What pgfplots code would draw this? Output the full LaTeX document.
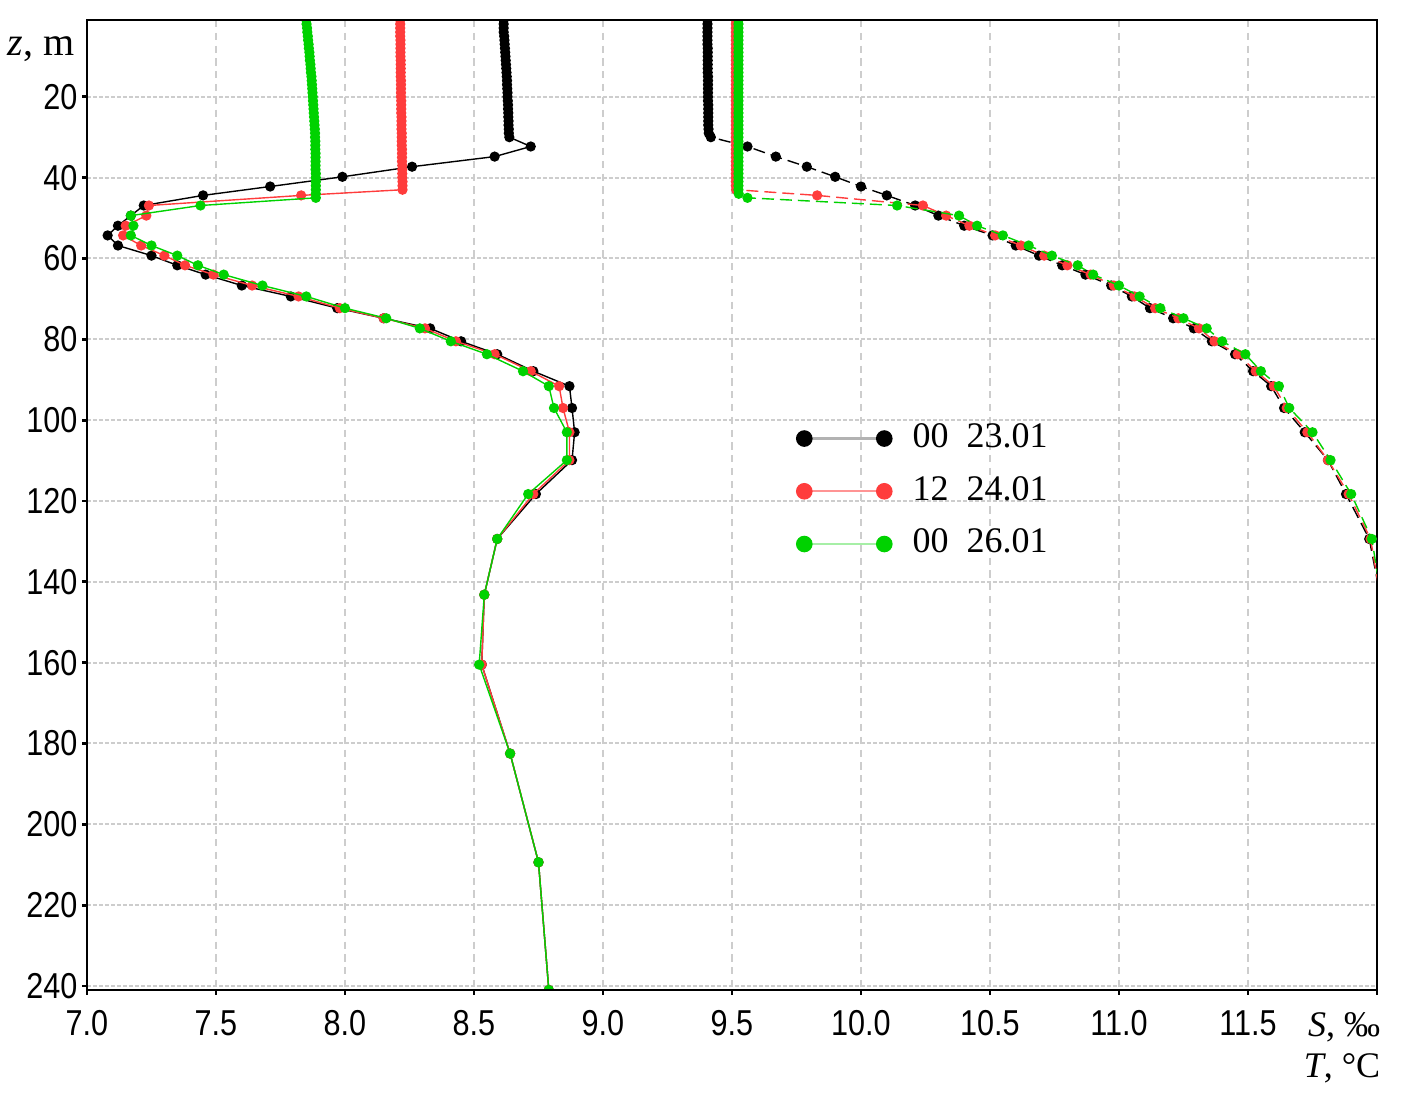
\documentclass[border=0pt]{standalone}
\usepackage{pgfplots}
\pgfplotsset{compat=1.18}
\usepackage{pgfplotstable}
\usepackage{fontspec}
\setmainfont{Liberation Serif}
\newfontfamily\tickfont[FakeStretch=0.85]{Liberation Sans}
\definecolor{cred}{RGB}{255,60,60}
\definecolor{cgreen}{RGB}{0,210,0}
\definecolor{gridc}{RGB}{205,205,205}

\pgfplotstableread{
z T S
1 8.615 9.405
2 8.615 9.405
3 8.615 9.405
4 8.615 9.405
5 8.617 9.405
6 8.618 9.405
7 8.619 9.405
8 8.620 9.406
9 8.621 9.406
10 8.622 9.406
11 8.623 9.406
12 8.624 9.406
13 8.625 9.406
14 8.626 9.406
15 8.627 9.407
16 8.628 9.407
17 8.628 9.407
18 8.629 9.407
19 8.630 9.407
20 8.630 9.407
21 8.631 9.407
22 8.632 9.408
23 8.632 9.408
24 8.633 9.408
25 8.633 9.408
26 8.634 9.408
27 8.634 9.408
28 8.635 9.409
29 8.635 9.410
30 8.637 9.418
32.3 8.72 9.56
34.8 8.58 9.67
37.3 8.26 9.79
39.8 7.99 9.90
42.2 7.71 10.00
44.4 7.45 10.10
46.9 7.22 10.21
49.4 7.17 10.30
51.9 7.12 10.40
54.3 7.08 10.51
56.8 7.12 10.60
59.3 7.25 10.69
61.7 7.35 10.78
64.0 7.46 10.87
66.7 7.60 10.97
69.4 7.79 11.05
72.3 7.97 11.12
74.8 8.15 11.21
77.3 8.33 11.29
80.5 8.45 11.36
83.7 8.59 11.45
87.9 8.73 11.52
91.6 8.87 11.59
97.0 8.88 11.64
103.0 8.89 11.72
109.9 8.88 11.81
118.3 8.74 11.88
129.4 8.59 11.97
143.2 8.54 12.012
160.5 8.53 12.012
182.5 8.64 12.012
209.4 8.75 12.012
241 8.79 12.012
}\blackdata

\pgfplotstableread{
z T S
1 8.214 9.515
2 8.214 9.515
3 8.214 9.515
4 8.214 9.515
5 8.214 9.515
6 8.215 9.515
7 8.215 9.515
8 8.215 9.515
9 8.215 9.515
10 8.215 9.515
11 8.216 9.515
12 8.216 9.515
13 8.216 9.515
14 8.216 9.515
15 8.216 9.515
16 8.217 9.515
17 8.217 9.515
18 8.217 9.515
19 8.217 9.515
20 8.217 9.515
21 8.218 9.515
22 8.218 9.515
23 8.218 9.515
24 8.218 9.515
25 8.219 9.515
26 8.219 9.515
27 8.219 9.515
28 8.219 9.515
29 8.220 9.515
30 8.220 9.515
31 8.220 9.515
32 8.220 9.515
33 8.221 9.515
34 8.221 9.515
35 8.221 9.515
36 8.221 9.515
37 8.222 9.515
38 8.222 9.515
39 8.222 9.515
40 8.222 9.515
41 8.223 9.515
42 8.223 9.515
43 8.223 9.516
44.4 7.83 9.83
46.9 7.24 10.24
49.4 7.23 10.33
51.9 7.15 10.42
54.3 7.14 10.52
56.8 7.21 10.62
59.3 7.30 10.71
61.7 7.38 10.80
64.0 7.49 10.89
66.7 7.64 10.98
69.4 7.82 11.06
72.3 7.98 11.14
74.8 8.15 11.23
77.3 8.31 11.31
80.5 8.43 11.37
83.7 8.58 11.46
87.9 8.72 11.53
91.6 8.83 11.60
97.0 8.845 11.65
103.0 8.87 11.73
109.9 8.87 11.81
118.3 8.73 11.89
129.4 8.59 11.975
143.2 8.54 12.012
160.5 8.53 12.012
182.5 8.64 12.012
209.4 8.75 12.012
241 8.79 12.012
}\reddata

\pgfplotstableread{
z T S
1 7.850 9.525
2 7.851 9.525
3 7.853 9.525
4 7.854 9.525
5 7.856 9.525
6 7.857 9.525
7 7.859 9.525
8 7.860 9.525
9 7.862 9.525
10 7.863 9.525
11 7.864 9.525
12 7.866 9.525
13 7.867 9.525
14 7.868 9.525
15 7.870 9.525
16 7.871 9.525
17 7.872 9.525
18 7.873 9.525
19 7.874 9.525
20 7.875 9.525
21 7.876 9.525
22 7.877 9.525
23 7.878 9.525
24 7.879 9.525
25 7.880 9.525
26 7.881 9.525
27 7.882 9.525
28 7.883 9.525
29 7.884 9.525
30 7.884 9.525
31 7.885 9.525
32 7.885 9.525
33 7.885 9.525
34 7.886 9.525
35 7.886 9.525
36 7.886 9.525
37 7.886 9.525
38 7.886 9.525
39 7.887 9.525
40 7.887 9.525
41 7.887 9.525
42 7.887 9.525
43 7.887 9.525
44 7.887 9.526
45 7.887 9.56
46.9 7.44 10.14
49.4 7.17 10.38
51.9 7.18 10.45
54.3 7.17 10.55
56.8 7.25 10.65
59.3 7.35 10.74
61.7 7.43 10.84
64.0 7.53 10.90
66.7 7.68 11.00
69.4 7.85 11.08
72.3 8.00 11.16
74.8 8.16 11.25
77.3 8.29 11.34
80.5 8.41 11.40
83.7 8.55 11.49
87.9 8.69 11.55
91.6 8.79 11.62
97.0 8.81 11.66
103.0 8.86 11.75
109.9 8.86 11.82
118.3 8.71 11.90
129.4 8.59 11.98
143.2 8.54 12.015
160.5 8.52 12.015
182.5 8.64 12.015
209.4 8.75 12.015
241 8.79 12.015
}\greendata

\pgfplotsset{
  limg/.style 2 args={legend image code/.code={%
    \draw[#1,line width=0.6pt] (0pt,0pt)--(20pt,0pt);
    \fill[#2] (0pt,0pt) circle[radius=1.9pt] (20pt,0pt) circle[radius=1.9pt];}},
  tline/.style={line width=0.35pt, mark=*, mark size=1.1pt, mark options={solid}},
  sline/.style={line width=0.35pt, mark=*, mark size=1.1pt, mark options={solid}, dash pattern=on 3pt off 1.5pt},
}

\begin{document}
\begin{tikzpicture}
\begin{axis}[
  scale only axis, width=322.5pt, height=242.5pt,
  xmin=7, xmax=12, ymin=1, ymax=241, y dir=reverse,
  xtick={7,7.5,8,8.5,9,9.5,10,10.5,11,11.5,12},
  xticklabels={7.0,7.5,8.0,8.5,9.0,9.5,10.0,10.5,11.0,11.5,{}},
  ytick={20,40,60,80,100,120,140,160,180,200,220,240},
  yticklabels={20,40,60,80,100,120,140,160,180,200,220,240},
  xtick pos=left, ytick pos=left,
  tick align=outside, major tick length=1.2pt,
  tick style={black, line width=0.7pt},
  grid=major,
  x grid style={gridc, line width=0.35pt, dash pattern=on 1.8pt off 1.4pt},
  y grid style={gridc, line width=0.5pt, dash pattern=on 0.9pt off 0.6pt},
  axis line style={black, line width=0.4pt},
  xticklabel style={font=\tickfont\fontsize{9}{10}\selectfont, inner sep=1pt, yshift=-2.8pt},
  yticklabel style={font=\tickfont\fontsize{9}{10}\selectfont, inner sep=1pt},
  clip marker paths=true,
  clip mode=individual,
  legend style={draw=none, fill=none, at={(axis description cs:0.549,0.593)}, anchor=north west,
    font=\fontsize{9}{10}\selectfont, row sep=1.7pt, column sep=3pt, inner sep=0pt},
  legend cell align=left,
]
\addplot[tline, black, limg={gray!60}{black}] table[x=T,y=z] {\blackdata};
\addlegendentry{00\hspace{0.5em}23.01}
\addplot[tline, cred, limg={cred!55}{cred}] table[x=T,y=z] {\reddata};
\addlegendentry{12\hspace{0.5em}24.01}
\addplot[tline, cgreen, limg={cgreen!35}{cgreen}] table[x=T,y=z] {\greendata};
\addlegendentry{00\hspace{0.5em}26.01}
\addplot[sline, black, forget plot] table[x=S,y=z] {\blackdata};
\addplot[sline, cred, forget plot] table[x=S,y=z] {\reddata};
\addplot[sline, cgreen, forget plot] table[x=S,y=z] {\greendata};
\end{axis}
\draw[black, line width=0.7pt] (current axis.north west) -- (current axis.north east);
\draw[black, line width=0.7pt] (current axis.south west) -- (current axis.south east);
\node[inner sep=0pt, font=\fontsize{10}{12}\selectfont] at ([shift={(-11.5pt,-7.2pt)}]current axis.north west) {\textit{z}, m};
\node[inner sep=0pt, anchor=base east, font=\fontsize{9}{11}\selectfont] at ([shift={(1pt,-11.75pt)}]current axis.south east) {\textit{S}, ‰};
\node[inner sep=0pt, anchor=base east, font=\fontsize{9}{11}\selectfont] at ([shift={(1pt,-22pt)}]current axis.south east) {\textit{T}, °C};
\path (current axis.south west) ++(-21.75pt,-32.5pt) rectangle ++(356.5pt,280pt);
\end{tikzpicture}
\end{document}
